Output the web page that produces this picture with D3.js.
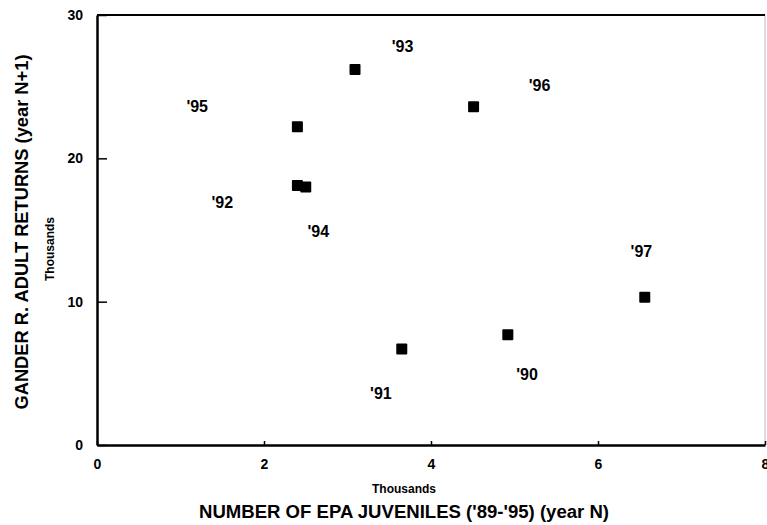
<!DOCTYPE html>
<html><head><meta charset="utf-8">
<script src="https://cdn.jsdelivr.net/npm/d3@7/dist/d3.min.js"></script>
<style>body{margin:0;background:#fff}text{font-family:"Liberation Sans",Arial,sans-serif;font-weight:bold;fill:#000}</style>
</head><body><svg id="c" width="767" height="525"></svg>
<script>
const years = ["'90","'91","'92","'93","'94","'95","'96","'97"];
const juveniles = [4.92, 3.65, 2.40, 3.09, 2.50, 2.40, 4.51, 6.56];
const returns = [7.7, 6.7, 18.1, 26.2, 18.0, 22.2, 23.6, 10.3];
const labelX = [5.15, 3.40, 1.50, 3.66, 2.65, 1.20, 5.30, 6.52];
const labelY = [4.9, 3.6, 16.9, 27.8, 14.9, 23.6, 25.1, 13.5];
const xTicks = [0, 2, 4, 6, 8];
const yTicks = [0, 10, 20, 30];

const svg = d3.select("#c");
const L = 97, R = 765, T = 15, B = 445;
const x = d3.scaleLinear().domain([0, 8]).range([L, R]);
const y = d3.scaleLinear().domain([0, 30]).range([B, T]);

// frame
svg.append("line").attr("x1", R).attr("x2", R).attr("y1", T).attr("y2", B).attr("stroke", "#bbb").attr("stroke-width", 1);
svg.append("line").attr("x1", L).attr("x2", R).attr("y1", T).attr("y2", T).attr("stroke", "#000").attr("stroke-width", 2);

const xa = svg.append("g").attr("transform", `translate(0,${B})`)
  .call(d3.axisBottom(x).tickValues(xTicks).tickSizeInner(-4).tickSizeOuter(0).tickPadding(14).tickFormat(d3.format("d")));
xa.select(".domain").attr("stroke-width", 2.5);
xa.selectAll(".tick line").attr("stroke-width", 1.5);
xa.selectAll(".tick text").style("font-size", "14px");

const ya = svg.append("g").attr("transform", `translate(${L},0)`)
  .call(d3.axisLeft(y).tickValues(yTicks).tickSizeInner(-10).tickSizeOuter(0).tickPadding(14).tickFormat(d3.format("d")));
ya.select(".domain").attr("stroke-width", 2.5);
ya.selectAll(".tick line").attr("stroke-width", 1.5);
ya.selectAll(".tick text").style("font-size", "14px");

// points
svg.selectAll("rect.pt").data(d3.range(years.length)).enter().append("rect")
  .attr("class", "pt")
  .attr("x", i => x(juveniles[i]) - 5.5).attr("y", i => y(returns[i]) - 5.5)
  .attr("width", 11).attr("height", 11).attr("rx", 1).attr("fill", "#000");

// labels
svg.selectAll("text.lb").data(d3.range(years.length)).enter().append("text")
  .attr("class", "lb")
  .attr("x", i => x(labelX[i])).attr("y", i => y(labelY[i]))
  .attr("text-anchor", "middle").attr("dominant-baseline", "central")
  .style("font-size", "16px").text(i => years[i]);

// axis titles
svg.append("text").attr("x", 404).attr("y", 493).attr("text-anchor", "middle").style("font-size", "12px").text("Thousands");
svg.append("text").attr("x", 404).attr("y", 518).attr("text-anchor", "middle").style("font-size", "18px")
  .attr("textLength", 410).attr("lengthAdjust", "spacingAndGlyphs").text("NUMBER OF EPA JUVENILES ('89-'95) (year N)");
svg.append("text").attr("transform", "translate(50,249) rotate(-90)").attr("text-anchor", "middle").attr("dominant-baseline", "central").style("font-size", "12px").text("Thousands");
svg.append("text").attr("transform", "translate(22,232) rotate(-90)").attr("text-anchor", "middle").attr("dominant-baseline", "central").style("font-size", "18px")
  .attr("textLength", 355).attr("lengthAdjust", "spacingAndGlyphs").text("GANDER R. ADULT RETURNS (year N+1)");
</script></body></html>
